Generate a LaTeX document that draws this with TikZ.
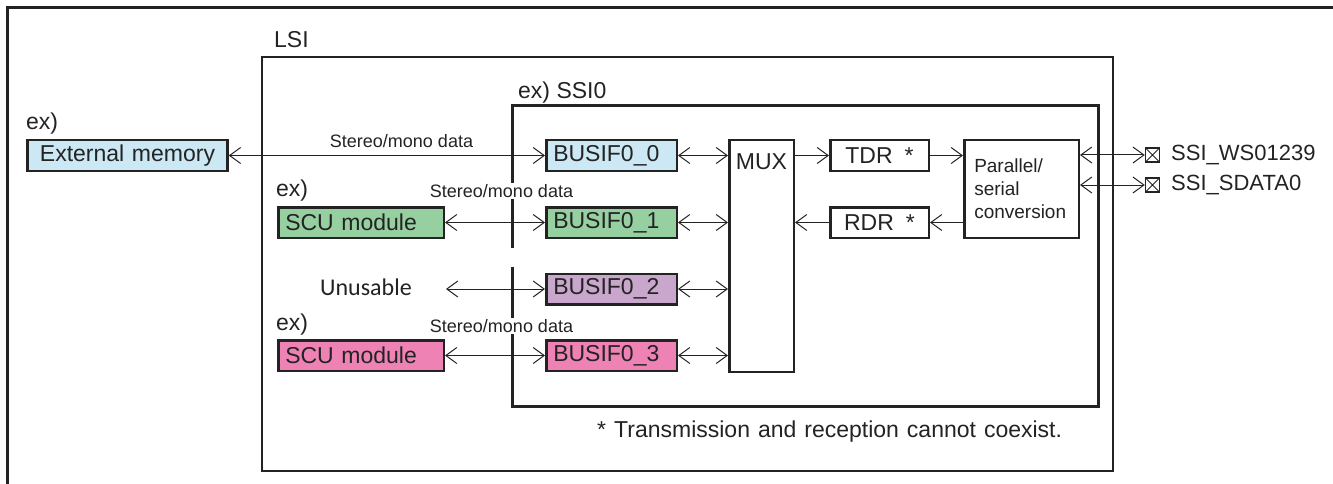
\documentclass[tikz,border=0pt]{standalone}
\usepackage{fontspec}
\setmainfont{Liberation Sans}
\newfontfamily\calibrifont{Carlito}
\usetikzlibrary{arrows.meta}
\definecolor{cblue}{RGB}{203,232,244}
\definecolor{cgreen}{RGB}{150,208,160}
\definecolor{cpurple}{RGB}{201,166,204}
\definecolor{cpink}{RGB}{238,130,180}
\definecolor{ink}{RGB}{35,35,35}
\begin{document}
\begin{tikzpicture}[x=1pt,y=-1pt,
  fbig/.style={font=\fontsize{23}{27}\selectfont},
  fsmall/.style={font=\fontsize{18}{21}\selectfont},
  bx/.style={draw=ink, text=ink, line width=2.5pt, inner xsep=7pt, inner ysep=0pt,
             minimum height=30.5pt, align=left, fbig},
  plain/.style={text=ink, inner sep=1pt},
  arr/.style={draw=ink, line width=1pt, {Straight Barb[length=11pt,width=16pt]}-{Straight Barb[length=11pt,width=16pt]}},
  arrone/.style={draw=ink, line width=1pt, -{Straight Barb[length=11pt,width=16pt]}},
  pinbox/.style={draw=ink, line width=1.5pt, minimum size=14pt, inner sep=0pt,
    path picture={\draw[ink, line width=1pt]
      (path picture bounding box.south west) -- (path picture bounding box.north east)
      (path picture bounding box.north west) -- (path picture bounding box.south east);}}
]
\useasboundingbox (0,0) rectangle (1333,484);
% outer frame
\draw[ink, line width=3pt] (7,484) -- (7,8) -- (1333,8);
% LSI frame
\draw[ink, line width=1.5pt] (262,57) rectangle (1113,471);
\node[plain, fbig, anchor=west] (lsilbl) at (273,40) {LSI};
% SSI0 frame with gap
\draw[ink, line width=3pt] (512,248) -- (512,106) -- (1098,106) -- (1098,406) -- (512,406) -- (512,267);
\node[plain, fbig, anchor=west] (ssilbl) at (517,93) {ex) SSI0};

% left side modules
\node[plain, fbig, anchor=west] (ex1) at (25,124) {ex)};
\node[bx, fill=cblue, text width=186pt, align=center] (ext) at (127.5,155.5) {External memory};
\node[plain, fbig, anchor=west] (ex2) at (275,191) {ex)};
\node[bx, fill=cgreen, text width=151.5pt] (scu1) at (361,222.5) {SCU module};
\node[plain, text=ink, font=\calibrifont\fontsize{24}{28}\selectfont] (unus) at (366,287) {Unusable};
\coordinate (ufree) at (446,289);
\node[plain, fbig, anchor=west] (ex3) at (275,325) {ex)};
\node[bx, fill=cpink, text width=151.5pt] (scu2) at (361,355.5) {SCU module};

% BUSIF boxes
\node[bx, fill=cblue, text width=116.5pt] (b0) at (611.5,155.5) {BUSIF0\_0};
\node[bx, fill=cgreen, text width=116.5pt] (b1) at (611.5,222.5) {BUSIF0\_1};
\node[bx, fill=cpurple, text width=116.5pt] (b2) at (611.5,289) {BUSIF0\_2};
\node[bx, fill=cpink, text width=116.5pt] (b3) at (611.5,355.5) {BUSIF0\_3};

% MUX
\node[draw=ink, line width=2.5pt, minimum width=64.5pt, minimum height=231.5pt, inner sep=0pt] (mux) at (761.5,256) {};
\node[plain, fbig] (muxlbl) at (761.5,162) {MUX};

% TDR / RDR
\node[bx, text width=84.5pt, align=center, fill=white] (tdr) at (879.5,155.5) {TDR\hspace{12pt}*};
\node[bx, text width=84.5pt, align=center, fill=white] (rdr) at (879.5,222.5) {RDR\hspace{12pt}*};

% Parallel/serial
\node[bx, fill=white, minimum height=97.5pt, inner xsep=10pt, text width=94.5pt,
      font=\fontsize{19}{23}\selectfont] (ps) at (1021.5,189) {Parallel/\\serial\\conversion};

% pins
\node[pinbox] (pin1) at (1152.5,155) {};
\node[pinbox] (pin2) at (1152.5,185) {};
\node[plain, anchor=west, font=\fontsize{22}{26}\selectfont] (pin1lbl) at (1170,155) {SSI\_WS01239};
\node[plain, anchor=west, font=\fontsize{22}{26}\selectfont] (pin2lbl) at (1170,185) {SSI\_SDATA0};

% connectors
\draw[arr] (ext) -- (b0);
\draw[arr] (scu1) -- (b1);
\draw[arr] (ufree) -- (b2);
\draw[arr] (scu2) -- (b3);
\draw[arr] (b0) -- (b0 -| mux.west);
\draw[arr] (b1) -- (b1 -| mux.west);
\draw[arr] (b2) -- (b2 -| mux.west);
\draw[arr] (b3) -- (b3 -| mux.west);
\draw[arrone] (tdr -| mux.east) -- (tdr);
\draw[arrone] (tdr) -- (tdr -| ps.west);
\draw[arrone] (rdr -| ps.west) -- (rdr);
\draw[arrone] (rdr) -- (rdr -| mux.east);
\draw[arr] (pin1 -| ps.east) -- (pin1);
\draw[arr] (pin2 -| ps.east) -- (pin2);

% data labels
\node[plain, fsmall] (sm1) at (401.5,141) {Stereo/mono data};
\node[plain, fsmall, fill=white] (sm2) at (501.5,191) {Stereo/mono data};
\node[plain, fsmall, fill=white] (sm3) at (501.5,326) {Stereo/mono data};

% footnote
\node[plain, anchor=west, font=\fontsize{23}{27}\selectfont] (note) at (596,432) {\spaceskip=8pt plus 1pt * Transmission and reception cannot coexist.};
\end{tikzpicture}
\end{document}
